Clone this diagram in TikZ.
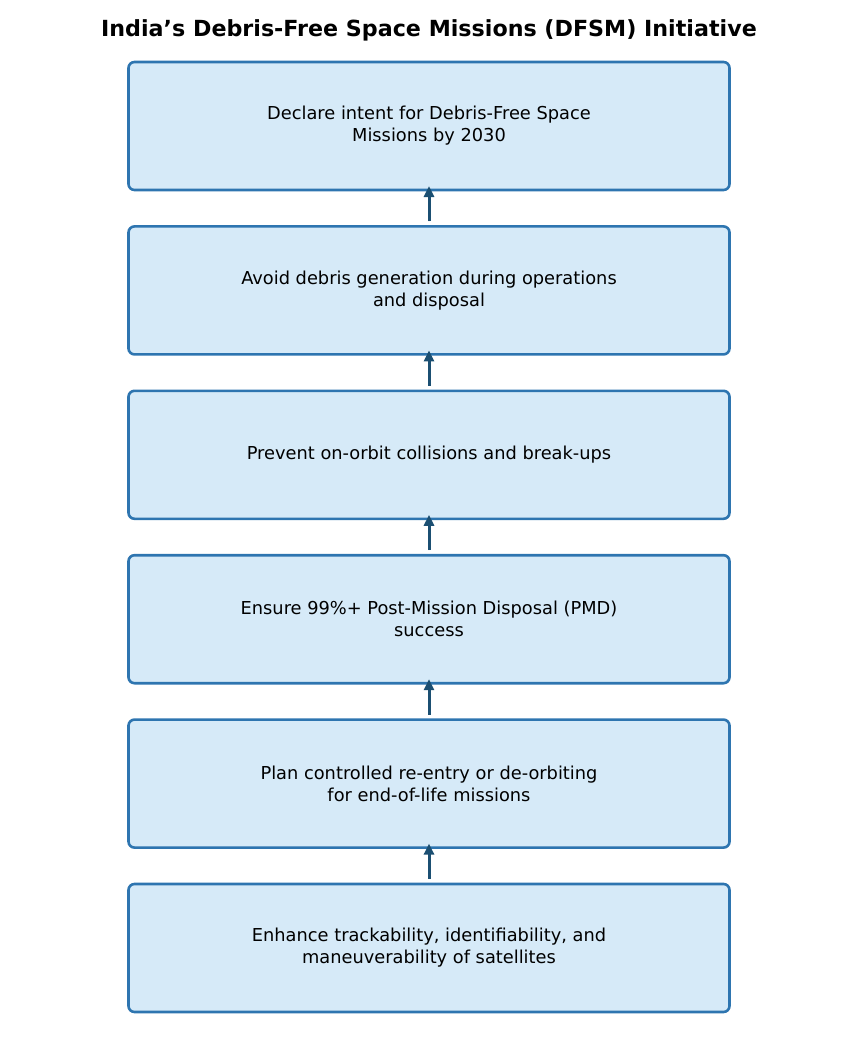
\documentclass[tikz,border=0pt]{standalone}
\usepackage{fontspec}
\setmainfont{DejaVu Sans}
\usepackage{xcolor}
\usepackage{tikz}
\usetikzlibrary{positioning, arrows.meta}

\definecolor{boxfill}{HTML}{D6EAF8}
\definecolor{boxedge}{HTML}{2E75B0}
\definecolor{arrowcol}{HTML}{1B4F72}

\begin{document}
\begin{tikzpicture}[
    x=1pt, y=1pt,
    node distance=36.4pt,
    goal/.style={rectangle, draw=boxedge, fill=boxfill, line width=2.6pt, rounded corners=6pt,
        minimum height=128pt, minimum width=601pt, align=center, outer sep=0pt,
        font=\fontsize{17.8}{22}\selectfont},
    upflow/.style={-{Triangle[length=11pt, width=10pt]}, draw=arrowcol, fill=arrowcol, line width=3pt}
]
\useasboundingbox (0,0) rectangle (858,-1053);

\node[font=\bfseries\fontsize{22.2}{26}\selectfont] (title) at (429,-30) {India’s Debris-Free Space Missions (DFSM) Initiative};

\node[goal] (declare) at (429,-126) {Declare intent for Debris-Free Space\\Missions by 2030};
\node[goal, below=of declare] (avoid) {Avoid debris generation during operations\\and disposal};
\node[goal, below=of avoid] (prevent) {Prevent on-orbit collisions and break-ups};
\node[goal, below=of prevent] (ensure) {Ensure 99\%+ Post-Mission Disposal (PMD)\\success};
\node[goal, below=of ensure] (plan) {Plan controlled re-entry or de-orbiting\\for end-of-life missions};
\node[goal, below=of plan] (enhance) {Enhance trackability, identifiability, and\\maneuverability of satellites};

% arrows point upward, from each step to the one above
\foreach \lo/\hi in {avoid/declare, prevent/avoid, ensure/prevent, plan/ensure, enhance/plan}
    \draw[upflow] ([yshift=5pt]\lo.north) -- ([yshift=4pt]\hi.south);

\end{tikzpicture}
\end{document}
